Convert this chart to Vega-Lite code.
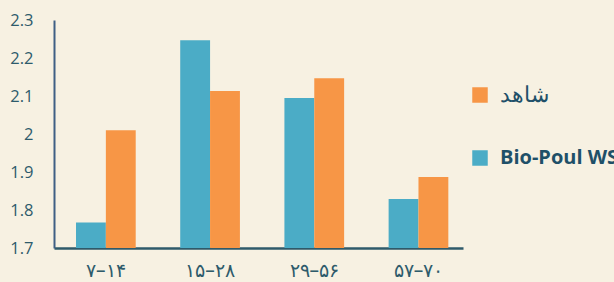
{
  "$schema": "https://vega.github.io/schema/vega-lite/v6.json",
  "width": 409,
  "height": 228,
  "autosize": {"type": "none"},
  "padding": {"left": 54, "top": 20, "right": 151, "bottom": 34},
  "background": "#f7f1e2",
  "data": {"values": [
    {"age": "۷–۱۴", "group": "Bio-Poul WS", "value": 1.767},
    {"age": "۷–۱۴", "group": "شاهد", "value": 2.01},
    {"age": "۱۵–۲۸", "group": "Bio-Poul WS", "value": 2.247},
    {"age": "۱۵–۲۸", "group": "شاهد", "value": 2.113},
    {"age": "۲۹–۵۶", "group": "Bio-Poul WS", "value": 2.095},
    {"age": "۲۹–۵۶", "group": "شاهد", "value": 2.147},
    {"age": "۵۷–۷۰", "group": "Bio-Poul WS", "value": 1.829},
    {"age": "۵۷–۷۰", "group": "شاهد", "value": 1.887}
  ]},
  "config": {
    "view": {"stroke": null},
    "font": "Open Sans"
  },
  "mark": {"type": "bar", "clip": true},
  "encoding": {
    "x": {
      "field": "age", "type": "nominal", "sort": null,
      "scale": {"paddingInner": 0.427, "paddingOuter": 0.176, "align": 0.6},
      "axis": {
        "title": null, "labelAngle": 0, "ticks": false,
        "domainColor": "#2f5a6a", "domainWidth": 2.5,
        "labelColor": "#2e5b6b", "labelFontSize": 19, "labelPadding": 13,
        "labelFont": "Noto Sans"
      }
    },
    "xOffset": {
      "field": "group", "type": "nominal",
      "scale": {"domain": ["Bio-Poul WS", "شاهد"]}
    },
    "y": {
      "field": "value", "type": "quantitative",
      "scale": {"domain": [1.7, 2.3], "zero": false, "nice": false},
      "axis": {
        "title": null, "grid": false, "ticks": false,
        "values": [1.7, 1.8, 1.9, 2.0, 2.1, 2.2, 2.3],
        "format": ".2~f",
        "domainColor": "#3f5f85", "domainWidth": 2,
        "labelColor": "#2e5b6b", "labelFontSize": 16.5, "labelPadding": 21
      }
    },
    "color": {
      "field": "group", "type": "nominal",
      "scale": {"domain": ["شاهد", "Bio-Poul WS"], "range": ["#f79646", "#4bacc6"]},
      "legend": {
        "title": null,
        "orient": "none",
        "legendX": 415,
        "legendY": 64,
        "padding": 0,
        "symbolType": "square",
        "symbolSize": 240,
        "symbolStrokeWidth": 0,
        "labelFont": "Open Sans",
        "labelFontSize": 20,
        "labelColor": "#1f5068",
        "labelOffset": 9,
        "rowPadding": 41,
        "labelLimit": 300,
        "encode": {
          "labels": {"update": {
            "fontWeight": {"signal": "datum.value === 'Bio-Poul WS' ? 'bold' : 'normal'"},
            "fontSize": {"signal": "datum.value === 'Bio-Poul WS' ? 20 : 22"}
          }}
        }
      }
    }
  }
}
